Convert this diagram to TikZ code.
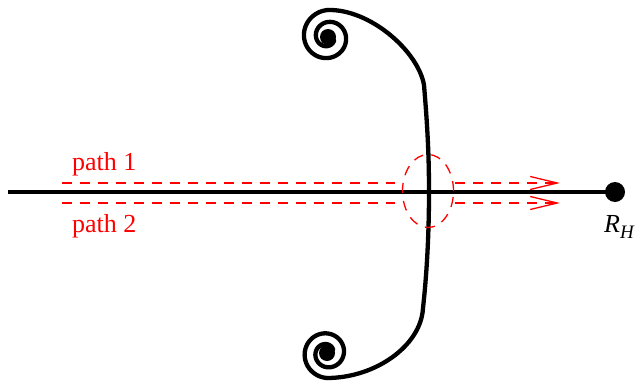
\documentclass[tikz,border=0pt]{standalone}
\usepackage{fontspec}
\setmainfont{Liberation Serif}
\usetikzlibrary{arrows.meta,shapes.geometric}
\begin{document}
\begin{tikzpicture}[x=1pt,y=1pt,
  wall/.style={line width=4.3pt,line cap=round,line join=round},
  redpath/.style={red,line width=1.3pt,dash pattern=on 10pt off 8pt},
  redtip/.style={-{Straight Barb[length=27pt,width=13pt,line width=1.3pt]}},
  lbl/.style={inner sep=0pt,anchor=base west,font=\fontsize{26}{30}\selectfont},
  dotnode/.style={circle,fill=black,inner sep=0pt,minimum size=20pt}]
\useasboundingbox (0,0) rectangle (636,381);
% main axis
\coordinate (axstart) at (8,189);
\node[dotnode] (rh) at (615,189) {};
\draw[line width=4.3pt] (axstart) -- (rh.center);
% curved wall with spirals
\coordinate (topend) at (328,371);
\coordinate (wtop) at (424,296);
\coordinate (wmid) at (429,189);
\coordinate (wbot) at (423,73);
\coordinate (botend) at (327,3);
\draw[wall] (topend) .. controls (370,372) and (418,330) .. (wtop)
  .. controls (427,260) and (429,230) .. (wmid)
  .. controls (429,140) and (426,100) .. (wbot)
  .. controls (421,35) and (375,3) .. (botend);
\draw[wall] plot[domain=90:690,samples=150,smooth]
  ({328+(27-(\x-90)*20/600)*cos(\x)},{344+(27-(\x-90)*20/600)*sin(\x)});
\draw[wall] plot[domain=0:600,samples=150,smooth]
  ({327+(25-\x*18/600)*cos(-90-\x)},{28+(25-\x*18/600)*sin(-90-\x)});
\fill (328,344) circle (8pt);
\fill (327,28) circle (8pt);
% red dashed circle
\node[draw=red,line width=1.3pt,dash pattern=on 10pt off 8pt,ellipse,
  minimum width=51pt,minimum height=73pt,inner sep=0pt] (ring) at (428,190) {};
% paths
\coordinate (p1a) at (62,198);
\coordinate (p1b) at (395,198);
\coordinate (p1c) at (455,198);
\coordinate (p1d) at (560,198);
\coordinate (p2a) at (62,178);
\coordinate (p2b) at (395,178);
\coordinate (p2c) at (455,178);
\coordinate (p2d) at (560,178);
\draw[redpath] (p1a) -- (p1b);
\draw[redpath,redtip] (p1c) -- (p1d);
\draw[redpath] (p2a) -- (p2b);
\draw[redpath,redtip] (p2c) -- (p2d);
% labels
\node[lbl,red] (l1) at (72,211) {path 1};
\node[lbl,red] (l2) at (72,149) {path 2};
\node[lbl] (lr) at (604,149) {\itshape R\raisebox{-6pt}{\fontsize{19}{20}\selectfont\itshape H}};
\end{tikzpicture}
\end{document}
